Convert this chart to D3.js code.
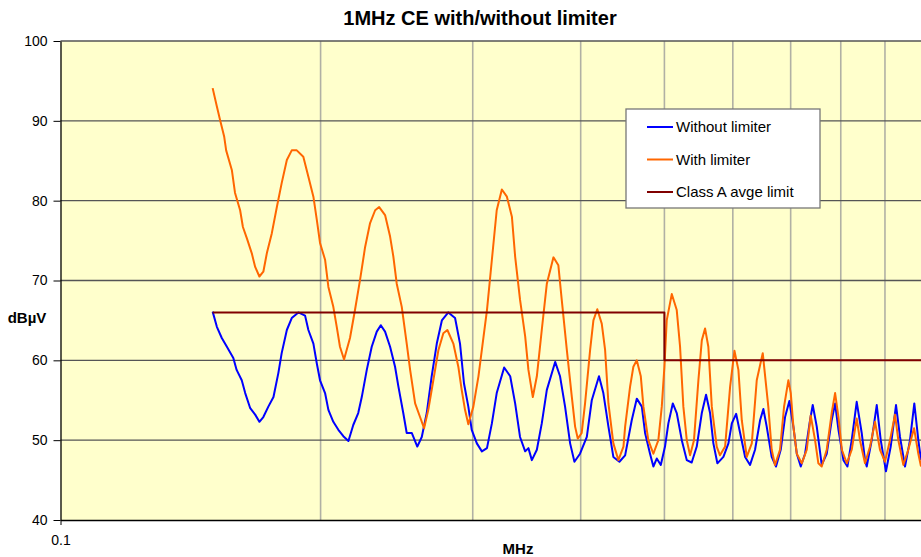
<!DOCTYPE html>
<html>
<head>
<meta charset="utf-8">
<script src="https://cdn.jsdelivr.net/npm/d3@7"></script>
<style>
  body { margin: 0; background: #fff; }
  svg { display: block; font-family: 'Liberation Sans', Arial, sans-serif; }
</style>
</head>
<body>
<svg id="chart" width="921" height="557"></svg>
<script>
// frequency in kHz, level in dBuV
const withoutLimiter = [
  [150.0,66.1],[151.7,64.2],[153.7,62.8],[155.8,61.7],[158.5,60.3],[159.9,58.8],[162.1,57.5],[163.6,55.9],
  [165.8,54.0],[168.0,53.2],[169.9,52.3],[171.7,52.9],[174.0,54.2],[176.4,55.4],[178.7,58.4],[180.3,60.9],
  [182.8,63.8],[185.2,65.3],[188.5,66.0],[191.9,65.6],[193.6,63.8],[196.2,62.1],[198.0,59.6],[199.7,57.5],
  [202.4,55.9],[204.2,53.8],[206.9,52.3],[209.7,51.3],[212.5,50.5],[215.4,49.9],[218.2,51.9],[221.1,53.4],
  [223.2,55.4],[226.2,58.8],[229.2,61.7],[232.3,63.6],[234.8,64.4],[237.5,63.6],[240.7,61.7],[243.9,59.2],
  [246.1,56.7],[249.3,53.4],[251.6,50.9],[255.0,50.9],[258.8,49.2],[261.9,50.4],[265.4,53.4],[268.9,58.0],
  [272.6,62.1],[276.3,65.0],[281.1,66.0],[286.2,65.3],[290.0,62.1],[293.1,57.1],[296.5,54.2],[299.2,51.3],
  [303.3,49.6],[307.4,48.6],[311.6,49.0],[315.7,52.1],[319.8,55.9],[326.2,59.1],[331.5,58.0],[335.9,54.6],
  [340.3,50.4],[345.0,48.6],[348.0,49.0],[351.2,47.5],[355.9,48.8],[360.6,52.1],[365.5,56.3],[373.7,59.8],
  [378.6,58.0],[383.7,54.2],[388.9,49.6],[393.4,47.3],[399.3,48.3],[406.6,50.4],[412.0,55.0],[420.0,58.0],
  [424.9,55.9],[430.7,51.7],[436.4,47.9],[443.5,47.3],[450.3,48.1],[458.3,52.5],[464.5,55.2],[470.8,54.2],
  [474.9,50.9],[481.2,48.3],[485.5,46.7],[489.9,47.7],[495.2,46.9],[500.8,49.2],[505.3,52.1],[511.3,54.6],
  [516.7,53.4],[523.7,50.0],[530.7,47.5],[537.7,47.2],[545.0,49.2],[552.4,53.4],[558.7,55.7],[564.7,53.4],
  [569.7,49.6],[575.8,47.1],[585.1,47.9],[593.0,49.6],[598.4,52.1],[605.3,53.3],[611.8,50.9],[620.0,47.9],
  [628.2,46.9],[636.6,48.8],[645.2,52.5],[650.9,53.9],[656.7,51.7],[665.5,47.9],[673.2,46.7],[681.7,48.8],
  [689.6,52.9],[697.6,54.9],[705.1,51.7],[711.5,48.3],[719.1,46.7],[727.4,48.3],[737.1,52.5],[742.4,54.4],
  [750.4,51.7],[760.4,46.9],[770.6,48.3],[780.9,52.5],[788.0,54.6],[795.1,51.3],[805.7,47.5],[814.3,46.7],
  [823.7,50.0],[834.7,54.8],[845.9,50.9],[853.4,47.5],[857.3,46.7],[868.8,50.0],[880.5,54.4],[889.9,50.0],
  [902.4,46.1],[913.9,49.2],[926.9,54.4],[936.8,50.4],[949.4,46.7],[962.1,50.0],[973.2,54.6],[983.7,50.0],
  [990.8,47.5]
];

const withLimiter = [
  [150.0,94.1],[151.7,91.8],[153.0,90.1],[154.7,88.0],[155.5,86.3],[157.9,83.8],[159.2,81.0],[161.4,78.8],
  [162.6,76.7],[164.3,75.3],[166.5,73.4],[168.0,71.7],[169.9,70.5],[171.7,71.1],[173.3,73.4],[175.6,75.9],
  [178.0,79.2],[180.3,82.2],[182.8,85.1],[185.2,86.3],[187.7,86.3],[191.0,85.5],[193.6,83.0],[196.2,80.5],
  [198.0,77.6],[199.7,74.7],[202.4,72.6],[204.2,69.2],[206.9,66.7],[208.8,64.2],[210.6,61.7],[212.9,60.1],
  [216.3,62.8],[219.2,66.3],[222.2,70.1],[225.2,74.2],[228.2,77.2],[231.3,78.8],[233.8,79.2],[237.5,78.2],
  [240.7,75.5],[242.8,73.0],[245.0,69.6],[248.3,66.7],[251.6,62.1],[253.9,58.8],[257.3,54.6],[260.7,52.9],
  [263.5,51.5],[266.5,53.8],[270.1,57.5],[273.8,61.3],[277.4,63.4],[280.4,63.8],[284.9,62.1],[288.7,59.2],
  [291.3,56.3],[293.9,53.8],[296.5,52.0],[300.5,54.2],[304.6,58.0],[308.8,63.0],[311.6,66.3],[315.7,72.6],
  [319.8,78.8],[324.2,81.4],[328.6,80.5],[333.0,78.0],[335.9,73.0],[340.3,67.6],[345.0,63.0],[348.0,58.8],
  [352.1,55.4],[355.9,58.0],[360.6,63.8],[365.5,69.6],[372.0,72.9],[376.9,71.9],[380.3,67.6],[385.5,61.3],
  [390.7,55.4],[394.1,51.7],[396.9,50.2],[401.1,50.9],[404.7,54.6],[410.2,61.3],[413.8,65.0],[418.1,66.4],
  [423.1,64.6],[426.9,61.3],[430.7,54.6],[436.4,49.6],[442.3,47.5],[448.3,49.2],[450.3,51.7],[456.3,56.7],
  [460.3,59.2],[464.5,60.0],[469.5,58.0],[472.8,54.2],[479.0,50.0],[485.5,48.3],[492.0,50.0],[496.5,54.2],
  [500.0,59.2],[503.1,65.0],[509.9,68.3],[516.7,66.3],[521.3,61.7],[525.9,54.2],[530.7,50.0],[535.4,48.1],
  [541.0,50.0],[547.4,57.5],[552.4,62.5],[557.2,64.0],[562.1,61.7],[567.3,54.2],[574.8,49.2],[579.8,48.1],
  [587.8,49.2],[595.7,56.7],[602.6,61.2],[609.0,58.8],[614.5,52.5],[622.7,47.9],[631.1,49.6],[639.5,57.5],
  [649.8,60.9],[659.5,54.2],[665.5,48.8],[671.4,46.9],[680.4,48.8],[687.8,54.2],[695.7,57.5],[700.2,55.9],
  [705.1,51.7],[711.5,48.3],[721.0,47.1],[730.7,48.8],[738.4,53.1],[747.0,50.0],[753.6,47.1],[760.4,46.7],
  [770.6,48.8],[780.9,53.4],[788.0,55.9],[795.1,52.9],[802.3,48.8],[813.0,47.1],[823.7,48.8],[834.7,52.7],
  [842.0,50.0],[853.4,47.1],[864.9,49.2],[876.5,52.3],[888.2,48.8],[900.0,47.3],[912.2,50.0],[924.4,53.2],
  [932.6,50.0],[945.1,46.9],[957.7,48.8],[972.5,51.5],[983.7,48.3],[990.8,46.7]
];

const classALimit = [[150, 66], [500, 66], [500, 60], [1000, 60]];

const yTicks = [40, 50, 60, 70, 80, 90, 100];
const xGrid = [0.2, 0.3, 0.4, 0.5, 0.6, 0.7, 0.8, 0.9, 1];
const seriesNames = ['Without limiter', 'With limiter', 'Class A avge limit'];
const seriesColors = ['#0000ff', '#ff6600', '#800000'];

const svg = d3.select('#chart');
const plotLeft = 60.5, plotTop = 41, plotBottom = 520;

var x = d3.scaleLog().domain([0.1, 1]).range([plotLeft, 924.5]);
var y = d3.scaleLinear().domain([40, 100]).range([plotBottom, plotTop]);

// plot area
svg.append('rect')
  .attr('x', plotLeft).attr('y', plotTop)
  .attr('width', x(1) - plotLeft).attr('height', plotBottom - plotTop)
  .attr('fill', '#ffffcc');

svg.append('defs').append('clipPath').attr('id', 'plot-clip')
  .append('rect')
  .attr('x', plotLeft).attr('y', plotTop)
  .attr('width', x(1) - plotLeft).attr('height', plotBottom - plotTop);

// gridlines
svg.append('g')
  .selectAll('line')
  .data(xGrid)
  .enter()
  .append('line')
  .attr('x1', d => x(d)).attr('x2', d => x(d))
  .attr('y1', plotTop).attr('y2', plotBottom)
  .style('stroke', '#b0b0a4')
  .style('stroke-width', 1.6);

svg.append('g')
  .selectAll('line')
  .data(yTicks.slice(1))
  .enter()
  .append('line')
  .attr('x1', plotLeft).attr('x2', 921)
  .attr('y1', d => y(d)).attr('y2', d => y(d))
  .style('stroke', '#555')
  .style('stroke-width', 1.3);

// series
var line = d3.line()
  .x(d => x(d[0] / 1000))
  .y(d => y(d[1]));

const lines = svg.append('g').attr('clip-path', 'url(#plot-clip)');
[withoutLimiter, withLimiter, classALimit].forEach((data, i) => {
  lines.append('path')
    .datum(data)
    .attr('d', line)
    .style('fill', 'none')
    .style('stroke', seriesColors[i])
    .style('stroke-width', 2)
    .style('stroke-linejoin', 'round');
});

// axes
const yAxis = svg.append('g')
  .attr('transform', `translate(${plotLeft},0)`)
  .call(d3.axisLeft(y).tickValues(yTicks).tickSize(7).tickPadding(6).tickSizeOuter(0));
yAxis.selectAll('text').style('font-size', '14px').style('fill', '#000');
yAxis.selectAll('line').style('stroke', '#000');
yAxis.select('.domain').style('stroke', '#000').style('stroke-width', 1.3);

const xAxis = svg.append('g')
  .attr('transform', `translate(0,${plotBottom})`)
  .call(d3.axisBottom(x).tickValues([0.1]).tickFormat(d3.format('.1f')).tickSize(5).tickPadding(10).tickSizeOuter(0));
xAxis.selectAll('text').style('font-size', '14px').style('fill', '#000');
xAxis.selectAll('line').style('stroke', '#000');
xAxis.select('.domain').style('stroke', '#000').style('stroke-width', 1.3);

// titles
svg.append('text')
  .attr('x', 480).attr('y', 25)
  .attr('text-anchor', 'middle')
  .style('font-size', '20px').style('font-weight', 'bold')
  .text('1MHz CE with/without limiter');

svg.append('text')
  .attr('x', 27).attr('y', 323)
  .attr('text-anchor', 'middle')
  .style('font-size', '15px').style('font-weight', 'bold')
  .text('dBµV');

svg.append('text')
  .attr('x', 518).attr('y', 554)
  .attr('text-anchor', 'middle')
  .style('font-size', '15px').style('font-weight', 'bold')
  .text('MHz');

// legend
const legend = svg.append('g').attr('transform', 'translate(626,109)');
legend.append('rect')
  .attr('width', 194).attr('height', 99)
  .attr('fill', '#fff')
  .style('stroke', '#777')
  .style('stroke-width', 1.3);

const items = legend.selectAll('g.item')
  .data(seriesNames)
  .enter()
  .append('g')
  .attr('class', 'item')
  .attr('transform', (d, i) => `translate(0,${18 + i * 32.5})`);
items.append('line')
  .attr('x1', 21).attr('x2', 47)
  .style('stroke', (d, i) => seriesColors[i])
  .style('stroke-width', 2);
items.append('text')
  .attr('x', 50).attr('dy', '0.35em')
  .style('font-size', '15px')
  .text(d => d);
</script>
</body>
</html>
